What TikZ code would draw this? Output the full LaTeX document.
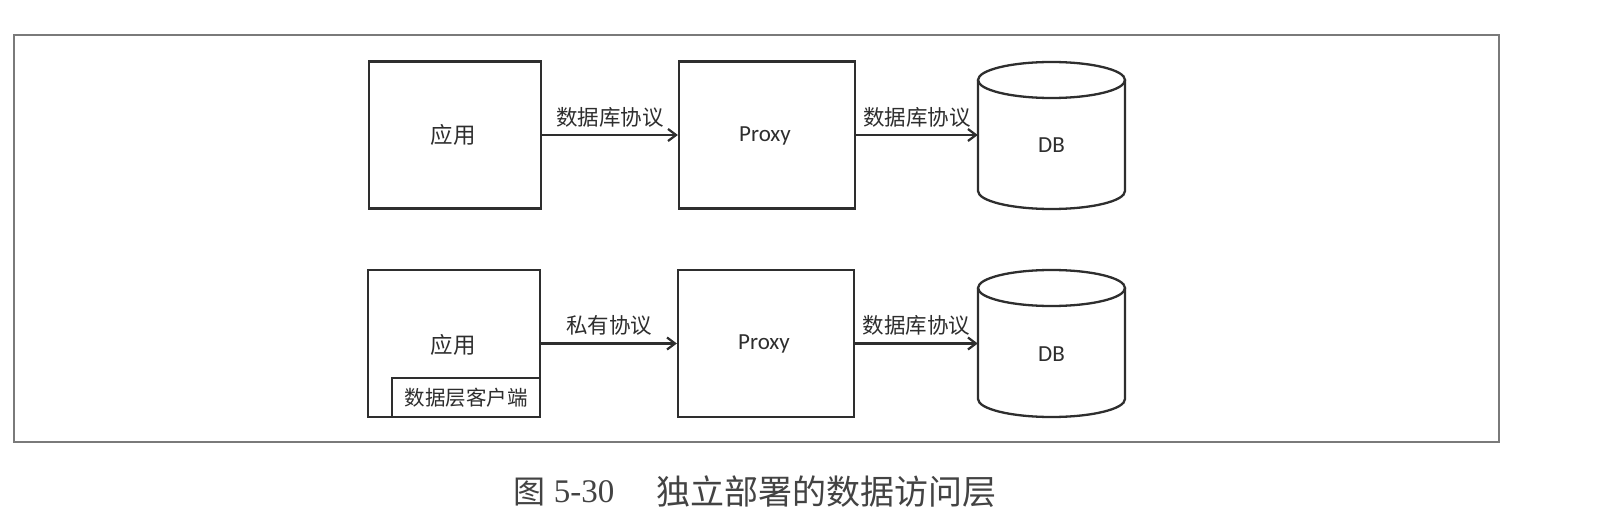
\documentclass[tikz,border=0pt]{standalone}
\usepackage{fontspec}
\setmainfont{Liberation Serif}
\newfontfamily\cjk{Noto Sans CJK SC}
\newfontfamily\latin{Carlito}
\usetikzlibrary{arrows.meta}
\definecolor{ink}{HTML}{2E2E2E}
\definecolor{framec}{HTML}{7A7A7A}
\tikzset{
  box/.style={draw=ink, line width=2.3pt, minimum width=#1, minimum height=147pt, inner sep=0pt},
  box/.default=172pt,
  lbl/.style={font=\cjk\fontsize{21.5}{24}\selectfont, text=ink, inner sep=0pt},
  conn/.style={draw=ink, line width=2.2pt, -{Straight Barb[length=8pt,width=12pt,line width=2.2pt]}},
  cyl/.style={draw=ink, line width=2.3pt},
  captext/.style={text=ink!90, inner sep=0pt, anchor=center}
}
\begin{document}
\begin{tikzpicture}[x=1pt,y=1pt]
\useasboundingbox (0,0) rectangle (1615,-532);
\fill[white] (0,0) rectangle (1615,-532);
% frame
\draw[framec, line width=1.5pt] (14,-35) rectangle (1499,-442);

% row 1
\node[box=172pt] (app1) at (455,-135) {};
\node[font=\cjk\fontsize{22.5}{26}\selectfont, text=ink] (app1t) at (453,-135) {应用};
\node[box=176pt] (proxy1) at (767,-135) {};
\node[font=\latin\fontsize{23}{26}\selectfont, text=ink] (proxy1t) at (765,-136) {Proxy};
\draw[cyl] (978,-80) -- (978,-191) arc[start angle=180, end angle=360, x radius=73.5, y radius=18] -- (1125,-80);
\draw[cyl] (1051.5,-80) ellipse[x radius=73.5, y radius=18];
\node[minimum width=147pt, minimum height=147pt, inner sep=0pt, font=\latin\fontsize{23}{26}\selectfont, text=ink] (db1) at (1051.5,-145) {DB};
\draw[conn] (app1.east) -- node[lbl, above=7pt] {数据库协议} (proxy1.west);
\draw[conn] (proxy1.east) -- node[lbl, above=7pt] {数据库协议} (proxy1.east -| db1.west);

% row 2
\node[box=172pt] (app2) at (454,-343.5) {};
\node[font=\cjk\fontsize{22.5}{26}\selectfont, text=ink] (app2t) at (453,-345) {应用};
\node[draw=ink, line width=2.3pt, minimum width=148pt, minimum height=39pt, inner sep=0pt, anchor=south east,
      font=\cjk\fontsize{20.5}{24}\selectfont, text=ink] (client) at (app2.south east) {数据层客户端};
\node[box=176pt] (proxy2) at (766,-343.5) {};
\node[font=\latin\fontsize{23}{26}\selectfont, text=ink] (proxy2t) at (764,-344) {Proxy};
\draw[cyl] (978,-288) -- (978,-399) arc[start angle=180, end angle=360, x radius=73.5, y radius=18] -- (1125,-288);
\draw[cyl] (1051.5,-288) ellipse[x radius=73.5, y radius=18];
\node[minimum width=147pt, minimum height=147pt, inner sep=0pt, font=\latin\fontsize{23}{26}\selectfont, text=ink] (db2) at (1051.5,-354) {DB};
\draw[conn] (app2.east) -- node[lbl, above=7pt] {私有协议} (proxy2.west);
\draw[conn] (proxy2.east) -- node[lbl, above=7pt] {数据库协议} (proxy2.east -| db2.west);

% caption
\node[captext, font=\cjk\fontsize{32}{36}\selectfont] (capA) at (529,-492) {图};
\node[captext, font=\fontsize{33}{36}\selectfont] (capB) at (584,-492) {5-30};
\node[captext, font=\cjk\fontsize{34}{38}\selectfont] (capC) at (826.5,-492) {独立部署的数据访问层};
\end{tikzpicture}
\end{document}
